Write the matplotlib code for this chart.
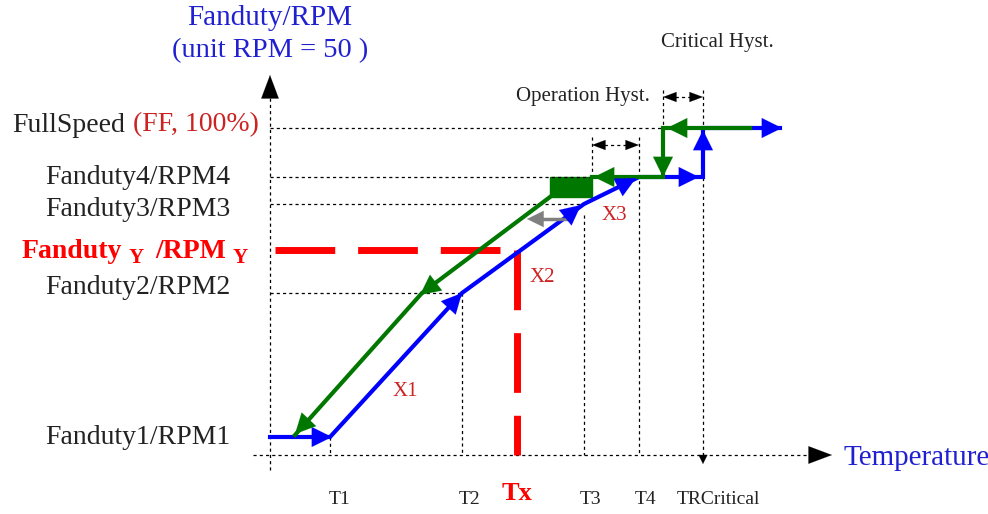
import matplotlib
matplotlib.use('Agg')
import matplotlib.pyplot as plt
from matplotlib.patches import Rectangle

plt.rcParams['font.family'] = ['Liberation Serif', 'DejaVu Serif']

# diagram units (temperature to the right, duty upward - screen-like scale)
temp_names = ['T1', 'T2', 'Tx', 'T3', 'T4', 'TRCritical']
temp_x = [330, 462, 517, 584, 639, 703]
crit_low = 663      # lower end of critical hysteresis
op_low = 592        # lower end of operation hysteresis

level_names = ['Fanduty1/RPM1', 'Fanduty2/RPM2', 'Fanduty3/RPM3', 'Fanduty4/RPM4']
level_y = [437, 293, 204, 177]
full_y = 128
duty_y = 250

# rising (blue) and falling (green) curves
rise_x = [270, 330, 462, 584, 639, 703, 703, 780]
rise_y = [437, 437, 293, 204, 177, 177, 128, 128]
fall_top_x = [750, 663, 663, 592]
fall_top_y = [128, 128, 177, 177]
fall_low_x = [550, 422, 295]
fall_low_y = [197, 293, 435]

BLUE = '#0000ff'
GREEN = '#007800'
RED = '#ff0000'
DRED = '#cc2222'
TXT = '#222222'

fig = plt.figure(figsize=(9.88, 5.14), dpi=100)
ax = fig.add_axes([0, 0, 1, 1])
ax.set_xlim(0, 988)
ax.set_ylim(514, 0)
ax.axis('off')

dot = dict(color='black', lw=0.9, ls=(0, (2.5, 2.5)))


def head(x0, y0, x1, y1, color, ms=17, hl=0.85, hw=0.42):
    ax.annotate('', xy=(x1, y1), xytext=(x0, y0),
                arrowprops=dict(arrowstyle='-|>,head_length=%s,head_width=%s' % (hl, hw),
                                color=color, lw=0.1, mutation_scale=ms,
                                shrinkA=0, shrinkB=0))


# axes
ax.plot([270, 270], [470, 92], **dot)
head(270, 95, 270, 75, 'black', ms=14, hl=1.2, hw=0.45)
ax.plot([253, 815], [455, 455], **dot)
head(812, 455, 832, 455, 'black', ms=14, hl=1.2, hw=0.45)

# guide lines
ax.plot([270, crit_low], [full_y, full_y], **dot)
ax.plot([270, temp_x[4]], [level_y[3], level_y[3]], **dot)
ax.plot([270, temp_x[3]], [level_y[2], level_y[2]], **dot)
ax.plot([270, temp_x[1]], [level_y[1], level_y[1]], **dot)
ax.plot([temp_x[0], temp_x[0]], [level_y[0], 455], **dot)
ax.plot([temp_x[1], temp_x[1]], [level_y[1], 455], **dot)
ax.plot([temp_x[3], temp_x[3]], [215, 455], **dot)
ax.plot([temp_x[4], temp_x[4]], [137, 455], **dot)
ax.plot([op_low, op_low], [137, level_y[3]], **dot)
ax.plot([temp_x[5], temp_x[5]], [90, 455], **dot)
head(703, 452, 703, 464, 'black', ms=8, hl=0.8, hw=0.4)
ax.plot([crit_low, crit_low], [90, full_y], **dot)

# hysteresis markers
for xa, xb, yy in [(op_low, temp_x[4], 145), (crit_low, temp_x[5], 97)]:
    ax.plot([xa + 6, xb - 6], [yy, yy], color='black', lw=0.9, ls=(0, (2.5, 2.5)))
    head(xa + 10, yy, xa, yy, 'black', ms=8, hl=1.2, hw=0.45)
    head(xb - 10, yy, xb, yy, 'black', ms=8, hl=1.2, hw=0.45)
ax.text(583, 97, 'Operation Hyst.', ha='center', va='center', fontsize=15, color=TXT)
ax.text(717, 42, 'Critical Hyst.', ha='center', va='center', fontsize=15, color=TXT)

# red Tx / duty markers
ax.plot([275, 503], [duty_y, duty_y], color=RED, lw=5, ls=(0, (8.6, 3.3)), solid_capstyle='butt')
ax.plot([temp_x[2], temp_x[2]], [duty_y, 455], color=RED, lw=5, ls=(0, (8.6, 3.3)))

# rising curve
ax.plot(rise_x, rise_y, color=BLUE, lw=3, solid_joinstyle='miter')
head(310, 437, 332, 437, BLUE)
head(440, 317, 462, 293, BLUE)
head(560, 222, 581, 205, BLUE)
head(615, 189, 636, 178, BLUE)
head(675, 177, 699, 177, BLUE)
head(703, 150, 703, 130, BLUE)
head(760, 128, 782, 128, BLUE)

# falling curve
ax.plot(fall_top_x, fall_top_y, color=GREEN, lw=3, solid_joinstyle='miter')
ax.add_patch(Rectangle((550, 177), op_low - 550, 20, color=GREEN))
ax.plot(fall_low_x, fall_low_y, color=GREEN, lw=3)
head(690, 128, 667, 128, GREEN)
head(663, 155, 663, 177, GREEN)
head(615, 177, 594, 177, GREEN)
head(442, 278, 420, 295, GREEN)
head(312, 416, 295, 434, GREEN)

# gray return arrow
ax.plot([568, 535], [219, 219], color='#808080', lw=2.5)
head(545, 219, 527, 219, '#808080', ms=14)

# segment labels
ax.text(405, 392, 'X1', ha='center', va='center', fontsize=15, color=DRED)
ax.text(542, 277, 'X2', ha='center', va='center', fontsize=15, color=DRED)
ax.text(614, 215, 'X3', ha='center', va='center', fontsize=15, color=DRED)

# y labels (text sits slightly off its guide line in the original)
label_shift = [0, -5, 6, 0]
for name, yy, dy in zip(level_names, level_y, label_shift):
    ax.text(230, yy + dy, name, ha='right', va='center', fontsize=20, color=TXT)
ax.text(12, full_y - 3, 'FullSpeed', ha='left', va='center', fontsize=20, color=TXT)
ax.text(133, full_y - 3, '(FF, 100%)', ha='left', va='center', fontsize=20, color=DRED)
ax.text(22, duty_y + 1, 'Fanduty', ha='left', va='center', fontsize=20, color=RED, fontweight='bold')
ax.text(129, duty_y + 8, 'Y', ha='left', va='center', fontsize=15, color=RED, fontweight='bold')
ax.text(155, duty_y + 1, '/RPM', ha='left', va='center', fontsize=20, color=RED, fontweight='bold')
ax.text(233, duty_y + 8, 'Y', ha='left', va='center', fontsize=15, color=RED, fontweight='bold')

ax.text(270, 18, 'Fanduty/RPM', ha='center', va='center', fontsize=21, color='#2020d0')
ax.text(270, 51, '(unit RPM = 50 )', ha='center', va='center', fontsize=20.5, color='#2020d0')
ax.text(843, 458, 'Temperature', ha='left', va='center', fontsize=21, color='#2020d0')

# x labels
label_x = [340, 470, 517, 590, 645, 718]
for name, lx in zip(temp_names, label_x):
    if name == 'Tx':
        ax.text(lx, 494, name, ha='center', va='center', fontsize=19, color=RED, fontweight='bold')
    else:
        ax.text(lx, 499, name, ha='center', va='center', fontsize=14, color=TXT)

fig.savefig('out.png', dpi=100)
